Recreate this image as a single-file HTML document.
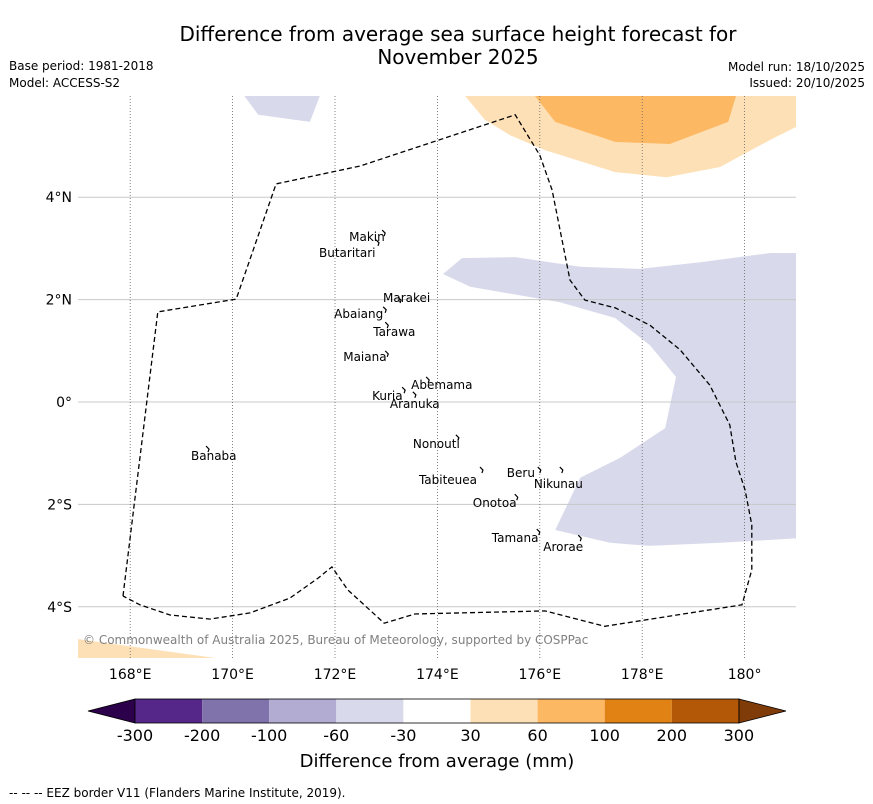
<!DOCTYPE html>
<html><head><meta charset="utf-8"><style>
html,body{margin:0;padding:0;background:#fff;}
svg{display:block;font-family:"DejaVu Sans","Liberation Sans",sans-serif;}
</style></head><body>
<svg id="chart" width="873" height="804" viewBox="0 0 873 804" xmlns="http://www.w3.org/2000/svg">
<text x="458" y="41" font-size="20" text-anchor="middle">Difference from average sea surface height forecast for</text>
<text x="458" y="64" font-size="20" text-anchor="middle">November 2025</text>
<text x="9" y="70" font-size="12">Base period: 1981-2018</text>
<text x="9" y="87" font-size="12">Model: ACCESS-S2</text>
<text x="865" y="71" font-size="12" text-anchor="end">Model run: 18/10/2025</text>
<text x="865" y="87" font-size="12" text-anchor="end">Issued: 20/10/2025</text>
<defs><clipPath id="mapclip"><rect x="78" y="96" width="718" height="562"/></clipPath></defs>
<g id="map" clip-path="url(#mapclip)"></g>
<g id="axes"></g>
<g id="cbar"></g>
<text x="83" y="644" font-size="12" fill="#808080">© Commonwealth of Australia 2025, Bureau of Meteorology, supported by COSPPac</text>
<text x="437" y="767" font-size="18" text-anchor="middle">Difference from average (mm)</text>
<text x="9" y="797" font-size="12">--  --  -- EEZ border V11 (Flanders Marine Institute, 2019).</text>
</svg>
<script>
const lonTicks=[168,170,172,174,176,178,180];
const lonTickLabels=["168°E","170°E","172°E","174°E","176°E","178°E","180°"];
const latTicks=[4,2,0,-2,-4];
const latTickLabels=["4°N","2°N","0°","2°S","4°S"];
const eezLon=[167.86,168.54,170.07,170.85,172.49,175.52,176.00,176.24,176.59,176.88,177.47,178.15,178.74,179.32,179.71,179.83,180.01,180.14,180.14,179.95,177.27,176.10,173.56,172.96,172.25,171.94,171.67,171.12,170.34,169.56,168.78,168.19,167.86];
const eezLat=[-3.79,1.76,2.01,4.26,4.61,5.61,4.82,4.14,2.38,1.99,1.84,1.50,1.02,0.33,-0.45,-1.17,-1.72,-2.40,-3.28,-3.96,-4.38,-4.08,-4.14,-4.32,-3.67,-3.22,-3.44,-3.83,-4.12,-4.24,-4.16,-3.96,-3.79];
const purpleEastLon=[174.11,174.48,175.52,176.79,177.96,179.13,180.50,181.08,181.08,179.52,178.15,177.37,176.30,176.79,177.57,178.45,178.66,178.15,177.47,176.39,174.64];
const purpleEastLat=[2.50,2.81,2.83,2.64,2.60,2.73,2.91,2.91,-2.66,-2.75,-2.81,-2.75,-2.50,-1.48,-1.09,-0.51,0.49,1.11,1.64,1.95,2.25];
const purpleNorthLon=[170.14,171.75,171.51,170.50];
const purpleNorthLat=[6.1,6.1,5.47,5.61];
const orangeLightLon=[174.44,181.08,181.08,180.50,179.52,178.48,177.47,176.10,175.42,174.93];
const orangeLightLat=[6.1,6.1,5.41,5.12,4.59,4.39,4.49,4.92,5.21,5.51];
const orangeMidLon=[175.81,179.87,179.68,178.54,177.47,176.30];
const orangeMidLat=[6.1,6.1,5.47,5.04,5.08,5.47];
const orangeSWLon=[166.82,169.95,166.82];
const orangeSWLat=[-4.61,-5.04,-5.04];
const islandNames=["Makin","Butaritari","Marakei","Abaiang","Tarawa","Maiana","Abemama","Kuria","Aranuka","Nonouti","Banaba","Tabiteuea","Beru","Nikunau","Onotoa","Tamana","Arorae"];
const islandLon=[172.96,172.84,173.27,172.98,173.02,173.02,173.82,173.35,173.56,174.40,169.52,174.87,176.00,176.43,175.55,175.98,176.79];
const islandLat=[3.30,3.11,1.99,1.80,1.50,0.94,0.43,0.23,0.14,-0.70,-0.92,-1.33,-1.33,-1.33,-1.86,-2.54,-2.66];
const labelDx=[-35,-59,-17,-51,-14,-44,-17,-32,-25,-45,-17,-63,-33,-28,-44,-47,-37];
const labelDy=[4,10,-2,4,7,3,5,6,9,6,7,10,3,14,6,6,9];
const cbarLevels=["-300","-200","-100","-60","-30","30","60","100","200","300"];
const cbarColors=["#542788","#8073ac","#b2abd2","#d8daeb","#ffffff","#fee0b6","#fdb863","#e08214","#b35806"];
const cbarLow="#2d004b", cbarHigh="#7f3b08";

const NS="http://www.w3.org/2000/svg";
const x0=79,lon0=167,pxLon=51.2,y0=402,pxLat=51.2;
function X(lon){return x0+(lon-lon0)*pxLon;}
function Y(lat){return y0-lat*pxLat;}
function mk(tag,attrs,parent){const e=document.createElementNS(NS,tag);for(const k in attrs)e.setAttribute(k,attrs[k]);parent.appendChild(e);return e;}
const map=document.getElementById('map'),axes=document.getElementById('axes'),cb=document.getElementById('cbar');
function poly(lons,lats,fill,name){
  const p=mk('polygon',{points:lons.map((l,i)=>X(l).toFixed(1)+','+Y(lats[i]).toFixed(1)).join(' '),fill:fill},map);
  
  
}
poly(orangeLightLon,orangeLightLat,'#fee0b6','anomaly-30-60-north');
poly(orangeMidLon,orangeMidLat,'#fdb863','anomaly-60-100-north');
poly(orangeSWLon,orangeSWLat,'#fee0b6','anomaly-30-60-southwest');
poly(purpleEastLon,purpleEastLat,'#d8daeb','anomaly-neg30-neg60-east');
poly(purpleNorthLon,purpleNorthLat,'#d8daeb','anomaly-neg30-neg60-north');
latTicks.forEach((lat,i)=>{
  const l=mk('line',{x1:78,x2:796,y1:Y(lat),y2:Y(lat),stroke:'#c8c8c8','stroke-width':1},map);
  
  
  const t=mk('text',{x:72,y:Y(lat)+5,'font-size':14,'text-anchor':'end'},axes);
  t.textContent=latTickLabels[i];
  
  
});
lonTicks.forEach((lon,i)=>{
  const l=mk('line',{x1:X(lon),x2:X(lon),y1:96,y2:658,stroke:'#666','stroke-width':0.8,'stroke-dasharray':'1,2'},map);
  
  
  const t=mk('text',{x:X(lon),y:679,'font-size':14,'text-anchor':'middle'},axes);
  t.textContent=lonTickLabels[i];
  
  
});
const eez=mk('polyline',{points:eezLon.map((l,i)=>X(l).toFixed(1)+','+Y(eezLat[i]).toFixed(1)).join(' '),fill:'none',stroke:'#000','stroke-width':1.3,'stroke-dasharray':'5,3'},map);


islandNames.forEach((n,i)=>{
  const px=X(islandLon[i]),py=Y(islandLat[i]);
  const m=mk('path',{d:`M${px-2},${py-3} L${px+1},${py} L${px},${py+3}`,fill:'none',stroke:'#000','stroke-width':1.2},map);
  
  
  const t=mk('text',{x:px+labelDx[i],y:py+labelDy[i]+4,'font-size':12},map);
  t.textContent=n;
  
  
});
const cbx0=135,cbw=67.1,cby=699,cbh=24;
const lt=mk('polygon',{points:`88,${cby+cbh/2} ${cbx0},${cby} ${cbx0},${cby+cbh}`,fill:cbarLow,stroke:'#000','stroke-width':0.8},cb);


cbarColors.forEach((c,i)=>{
  const r=mk('rect',{x:cbx0+i*cbw,y:cby,width:cbw,height:cbh,fill:c},cb);
  
  
});
const xe=cbx0+cbarColors.length*cbw;
const ht=mk('polygon',{points:`${xe},${cby} 786,${cby+cbh/2} ${xe},${cby+cbh}`,fill:cbarHigh,stroke:'#000','stroke-width':0.8},cb);


mk('rect',{x:cbx0,y:cby,width:xe-cbx0,height:cbh,fill:'none',stroke:'#000','stroke-width':0.8},cb);
cbarLevels.forEach((lv,i)=>{
  const t=mk('text',{x:cbx0+i*cbw,y:741,'font-size':16,'text-anchor':'middle'},cb);
  t.textContent=lv;
  
  
});
</script>
</body></html>
